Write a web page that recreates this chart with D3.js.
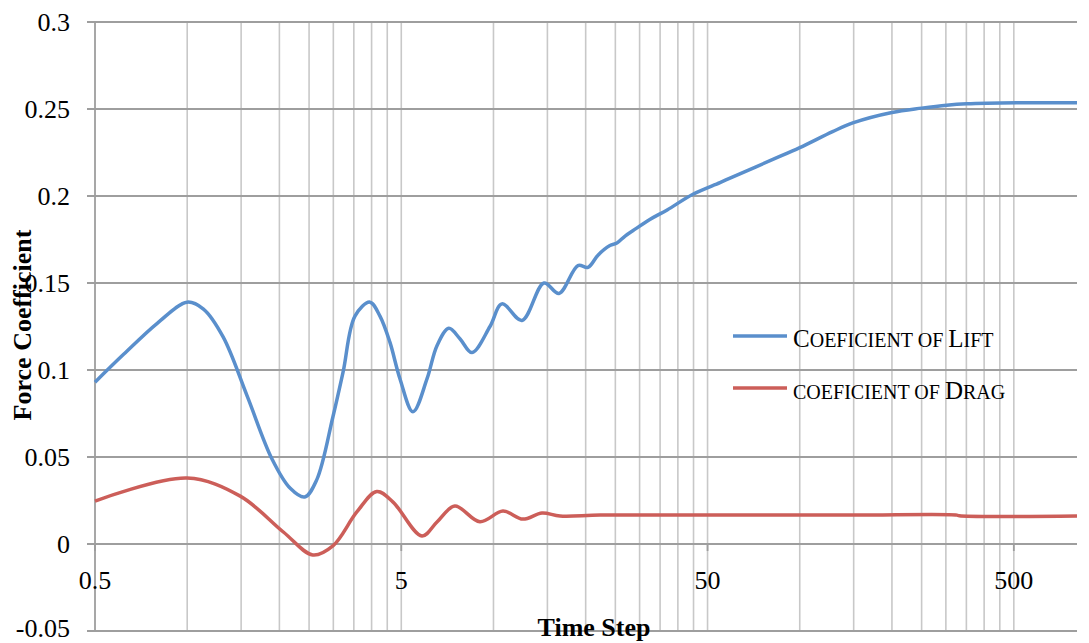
<!DOCTYPE html>
<html>
<head>
<meta charset="utf-8">
<script src="https://cdn.jsdelivr.net/npm/d3@7"></script>
<style>
  body { margin: 0; background: #fff; }
  svg { display: block; }
  text { font-family: "Liberation Serif", "DejaVu Serif", serif; fill: #000; }
</style>
</head>
<body>
<svg id="chart" width="1089" height="643"></svg>
<script>
// time step (x) and force coefficient values
const liftX = [0.5, 0.62, 0.8, 1.0, 1.13, 1.31, 1.57, 1.89, 2.17, 2.42, 2.65, 2.99, 3.23, 3.53, 3.95, 4.26, 4.59, 4.95, 5.46,
  6.07, 6.54, 7.15, 7.77, 8.51, 9.74, 10.66, 12.39, 14.62, 16.36, 18.87, 20.35, 21.94, 24.0, 25.3, 26.9, 28.5, 32.4, 36.9, 44.8,
  54.9, 60.5, 81.7, 100, 128, 149, 200, 250, 302, 351, 512, 804];
const liftY = [0.093, 0.109, 0.127, 0.139, 0.135, 0.119, 0.085, 0.049, 0.032, 0.027, 0.037, 0.073, 0.099, 0.131, 0.139, 0.131, 0.116, 0.095, 0.076,
  0.095, 0.114, 0.124, 0.118, 0.110, 0.125, 0.138, 0.1285, 0.150, 0.144, 0.160, 0.159, 0.166, 0.1715, 0.173, 0.177, 0.180, 0.1865, 0.192, 0.201,
  0.2077, 0.211, 0.221, 0.2278, 0.237, 0.242, 0.248, 0.2505, 0.2522, 0.253, 0.2536, 0.2536];

const dragX = [0.5, 1.0, 1.49, 2.06, 2.57, 2.99, 3.58, 4.16, 4.70, 5.84, 6.54, 7.48, 9.03, 10.74, 12.48, 14.4, 16.5, 22.3, 47.2, 150, 326, 332, 804];
const dragY = [0.0247, 0.0379, 0.0275, 0.0069, -0.0063, -0.0011, 0.0184, 0.0302, 0.0241, 0.0046, 0.0126, 0.0218, 0.0128, 0.0189, 0.0143, 0.0178, 0.0161, 0.0166, 0.0166, 0.0166, 0.0166, 0.0162, 0.0161];

const yTicks = [-0.05, 0, 0.05, 0.1, 0.15, 0.2, 0.25, 0.3];
const yLabels = ["-0.05", "0", "0.05", "0.1", "0.15", "0.2", "0.25", "0.3"];
const xMajor = [0.5, 5, 50, 500];
const seriesNames = ["Coeficient of Lift", "coeficient of Drag"];
const seriesColors = ["#5a8fcc", "#cc5e59"];

const svg = d3.select("#chart");
const plotLeft = 95, plotRight = 1077, plotTop = 22, plotBottom = 631;

const x = d3.scaleLog().domain([0.5, 804]).range([plotLeft, plotRight]);
const y = d3.scaleLinear().domain([-0.05, 0.3]).range([plotBottom, plotTop]);

// minor + major vertical gridlines
const xGrid = [];
xMajor.forEach(b => { for (let k = 1; k <= 9; k++) { const v = b * k; if (v <= 804) xGrid.push(v); } });

svg.append("g").selectAll("line").data(xGrid.filter(v => v > 0.5)).enter().append("line")
  .attr("x1", d => x(d)).attr("x2", d => x(d))
  .attr("y1", plotTop).attr("y2", plotBottom)
  .attr("stroke", "#c8c8c8").attr("stroke-width", 1.6);

// horizontal gridlines and y ticks
svg.append("g").selectAll("line").data(yTicks).enter().append("line")
  .attr("x1", plotLeft - 8).attr("x2", plotRight)
  .attr("y1", d => y(d)).attr("y2", d => y(d))
  .attr("stroke", "#9e9e9e").attr("stroke-width", 1.8);

// y axis line
svg.append("line")
  .attr("x1", plotLeft).attr("x2", plotLeft).attr("y1", plotTop).attr("y2", plotBottom)
  .attr("stroke", "#9e9e9e").attr("stroke-width", 1.8);

// x tick marks on the zero line
svg.append("g").selectAll("line").data(xMajor).enter().append("line")
  .attr("x1", d => x(d)).attr("x2", d => x(d))
  .attr("y1", y(0)).attr("y2", y(0) + 7)
  .attr("stroke", "#9e9e9e").attr("stroke-width", 1.8);

svg.append("g").selectAll("text").data(yTicks).enter().append("text")
  .attr("x", 70).attr("y", d => Math.min(y(d) + 9, 637))
  .attr("text-anchor", "end")
  .style("font-size", "26px")
  .text((d, i) => yLabels[i]);

svg.append("g").selectAll("text").data(xMajor).enter().append("text")
  .attr("x", d => x(d)).attr("y", 589)
  .attr("text-anchor", "middle")
  .style("font-size", "26px")
  .text(d => d);

// axis titles
svg.append("text")
  .attr("transform", "translate(31,325) rotate(-90)")
  .attr("text-anchor", "middle")
  .style("font-size", "26px").style("font-weight", "bold")
  .text("Force Coefficient");

svg.append("text")
  .attr("x", 594).attr("y", 636)
  .attr("text-anchor", "middle")
  .style("font-size", "26px").style("font-weight", "bold")
  .text("Time Step");

// series
const line = d3.line()
  .x(d => x(d[0]))
  .y(d => y(d[1]))
  .curve(d3.curveCatmullRom.alpha(0.5));

const series = [d3.zip(liftX, liftY), d3.zip(dragX, dragY)];

svg.append("g").selectAll("path").data(series).enter().append("path")
  .attr("d", line)
  .attr("fill", "none")
  .attr("stroke", (d, i) => seriesColors[i])
  .attr("stroke-width", 3.5)
  .attr("stroke-linejoin", "round");

// legend with hand made small caps
const legendY = [336, 388];
const lg = svg.append("g").selectAll("g").data(seriesNames).enter().append("g")
  .attr("transform", (d, i) => `translate(733,${legendY[i]})`);

lg.append("line")
  .attr("x1", 0).attr("x2", 54)
  .attr("stroke", (d, i) => seriesColors[i])
  .attr("stroke-width", 3.5);

lg.append("text")
  .attr("x", 60).attr("y", 11)
  .each(function (d) {
    const t = d3.select(this);
    for (const ch of d) {
      const big = ch !== ch.toLowerCase();
      t.append("tspan")
        .style("font-size", big ? "25px" : "20px")
        .text(ch.toUpperCase());
    }
  });
</script>
</body>
</html>
